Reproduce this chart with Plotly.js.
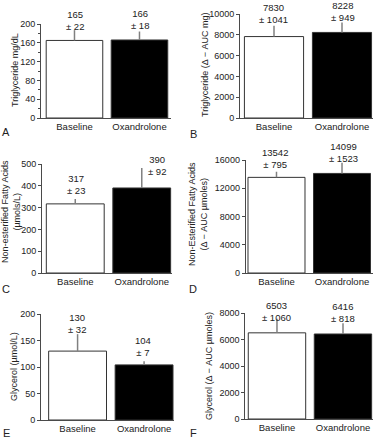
<!DOCTYPE html>
<html>
<head>
<meta charset="utf-8">
<script src="https://cdn.plot.ly/plotly-3.0.1.min.js"></script>
<style>html,body{margin:0;padding:0;background:#fff;}#chart{width:378px;height:440px;}</style>
</head>
<body>
<div id="chart"></div>
<script>
// ---- data ----
const categories = ['Baseline', 'Oxandrolone'];
const tgMean = [165, 166];
const tgErr = [22, 18];
const tgAuc = [7830, 8228];
const tgAucErr = [1041, 949];
const nefaMean = [317, 390];
const nefaErr = [23, 92];
const nefaAuc = [13542, 14099];
const nefaAucErr = [795, 1523];
const glyMean = [130, 104];
const glyErr = [32, 7];
const glyAuc = [6503, 6416];
const glyAucErr = [1060, 818];

const panelTitles = [
  'Triglyceride mg/dL',
  'Triglyceride (Δ − AUC mg)',
  'Non-esterified Fatty Acids<br>(µmols/L)',
  'Non-Esterified Fatty Acids<br>(Δ − AUC µmoles)',
  'Glycerol (µmol/L)',
  'Glycerol (Δ − AUC µmoles)'
];
const panelLetters = ['A', 'B', 'C', 'D', 'E', 'F'];
const panelValues = [tgMean, tgAuc, nefaMean, nefaAuc, glyMean, glyAuc];
const panelErrors = [tgErr, tgAucErr, nefaErr, nefaAucErr, glyErr, glyAucErr];

// ---- layout geometry (pixels) ----
const W = 378, H = 440;
const px = x => x / W;
const py = y => 1 - y / H;
const geo = [
  {x: [41, 171],    y: [24, 118],  xr: [-0.515, 1.485], yr: [0, 200],   dtick: 40,   minor: 20,
   lab: [[74.5, 20.5], [139.5, 20]], letter: [6, 132], title: [15, 70]},
  {x: [240, 372.6], y: [14, 118],  xr: [-0.5, 1.45],    yr: [0, 10000], dtick: 2000, minor: null,
   lab: [[273, 13.5], [343, 12]], letter: [193, 134], title: [205, 65]},
  {x: [42, 171.7],  y: [164, 273], xr: [-0.5, 1.45],    yr: [0, 500],   dtick: 100,  minor: null,
   lab: [[75.5, 184], [157, 166]], letter: [6, 289], title: [11, 212]},
  {x: [245.7, 372.8], y: [160, 273], xr: [-0.47, 1.47], yr: [0, 16000], dtick: 4000, minor: null,
   lab: [[275, 158], [343, 153]], letter: [193, 289], title: [198, 214]},
  {x: [41, 174],    y: [314, 420], xr: [-0.55, 1.45],   yr: [0, 200],   dtick: 50,   minor: null,
   lab: [[77, 323.5], [143, 346]], letter: [6, 433], title: [14, 367]},
  {x: [245.3, 372.7], y: [313, 419], xr: [-0.48, 1.45], yr: [0, 8000], dtick: 2000, minor: null,
   lab: [[276, 311], [343, 312]], letter: [193, 433], title: [209, 366]}
];

const FONT = 'Liberation Sans, Arial, sans-serif';
const AX = '#4a4a4a';

const data = [];
const layout = {
  width: W, height: H,
  margin: {l: 0, r: 0, t: 0, b: 0},
  paper_bgcolor: '#fff', plot_bgcolor: 'rgba(0,0,0,0)',
  showlegend: false,
  font: {family: FONT, size: 9, color: '#222'},
  annotations: [],
  bargap: 0
};

geo.forEach((g, i) => {
  const n = i === 0 ? '' : String(i + 1);
  const vals = panelValues[i];
  const errs = panelErrors[i];
  data.push({
    type: 'bar',
    x: categories,
    y: vals,
    width: 0.87,
    xaxis: 'x' + n, yaxis: 'y' + n,
    marker: {color: ['#ffffff', '#000000'], line: {color: '#333', width: 1}},
    error_y: {type: 'data', array: errs, symmetric: false, arrayminus: [0, 0],
              color: '#808080', thickness: 1.5, width: 0},
    hoverinfo: 'none'
  });
  layout['xaxis' + n] = {
    domain: [px(g.x[0]), px(g.x[1])],
    anchor: 'y' + n,
    type: 'category',
    range: g.xr,
    showline: true, linecolor: AX, linewidth: 1,
    ticks: '', showgrid: false, zeroline: false,
    tickfont: {family: FONT, size: 9.5, color: '#222'},
    fixedrange: true
  };
  const ya = {
    domain: [py(g.y[1]), py(g.y[0])],
    anchor: 'x' + n,
    range: g.yr,
    dtick: g.dtick, tick0: 0,
    tickformat: 'd',
    showline: true, linecolor: AX, linewidth: 1,
    ticks: 'outside', ticklen: 3, tickcolor: AX, tickwidth: 1,
    showgrid: false, zeroline: false,
    tickfont: {family: FONT, size: 9, color: '#222'},
    fixedrange: true
  };
  if (g.minor) {
    ya.minor = {dtick: g.minor, ticks: 'outside', ticklen: 2, tickcolor: AX, showgrid: false};
  }
  layout['yaxis' + n] = ya;

  // y-axis title drawn as rotated text
  layout.annotations.push({
    xref: 'paper', yref: 'paper',
    x: px(g.title[0]), y: py(g.title[1]),
    xanchor: 'center', yanchor: 'middle',
    textangle: -90,
    text: panelTitles[i], showarrow: false,
    font: {family: FONT, size: 9, color: '#222'}
  });

  g.lab.forEach((l, k) => {
    layout.annotations.push({
      xref: 'paper', yref: 'paper',
      x: px(l[0]), y: py(l[1]),
      xanchor: 'center', yanchor: 'middle',
      text: vals[k] + '<br>± ' + errs[k],
      showarrow: false,
      font: {family: FONT, size: 9.5, color: '#222'}
    });
  });
  layout.annotations.push({
    xref: 'paper', yref: 'paper',
    x: px(g.letter[0]), y: py(g.letter[1]),
    xanchor: 'center', yanchor: 'middle',
    text: panelLetters[i], showarrow: false,
    font: {family: FONT, size: 11, color: '#222'}
  });
});

Plotly.newPlot('chart', data, layout, {staticPlot: true, displayModeBar: false});
</script>
</body>
</html>
